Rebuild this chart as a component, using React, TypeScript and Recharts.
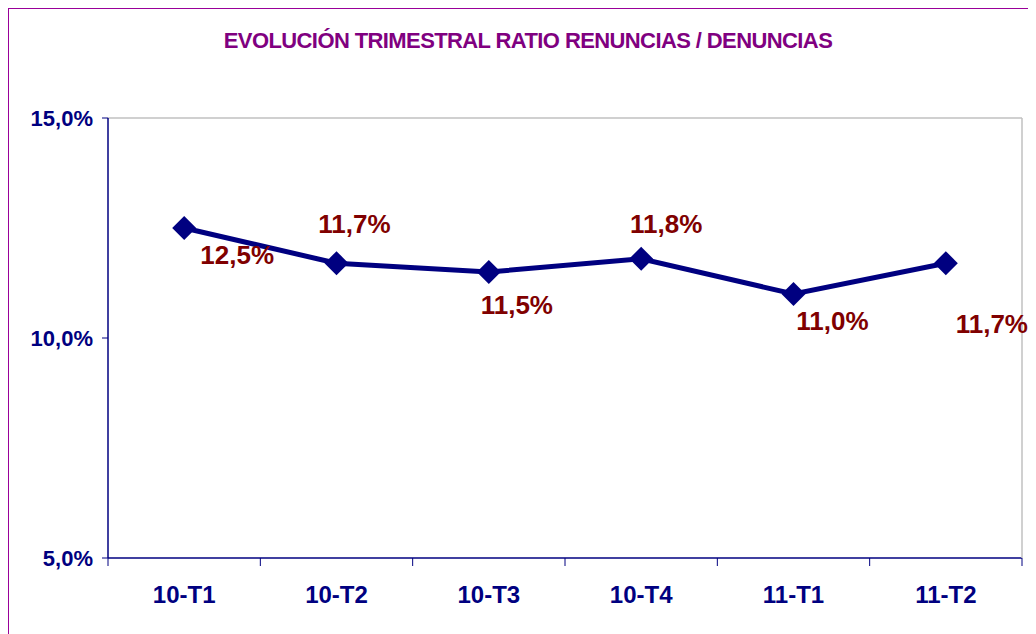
import React from 'react';
import { LineChart, Line, XAxis, YAxis, ReferenceLine, LabelList } from 'recharts';

const quarters = ['10-T1', '10-T2', '10-T3', '10-T4', '11-T1', '11-T2'];
const ratios = [12.5, 11.7, 11.5, 11.8, 11.0, 11.7];
const yTicks = [5, 10, 15];

const data = quarters.map((q, i) => ({ q, ratio: ratios[i] }));

// where each value label sits relative to its marker (from the original layout)
const LABEL_SHIFT = [
  [53, 27],
  [18, -39],
  [28, 33],
  [25, -35],
  [39, 27],
  [46, 61],
];

const FONT = '"Liberation Sans", Arial, sans-serif';
const NAVY = '#000080';
const fmt = (v: number) => `${v.toFixed(1).replace('.', ',')}%`;

const Diamond = (props: any) => {
  const { cx, cy, index } = props;
  if (cx == null || cy == null) return null;
  const r = 12;
  return (
    <path
      key={`dm-${index}`}
      d={`M${cx},${cy - r} L${cx + r},${cy} L${cx},${cy + r} L${cx - r},${cy} Z`}
      fill={NAVY}
    />
  );
};

const ValueLabel = (props: any) => {
  const { x, y, value, index } = props;
  const [dx, dy] = LABEL_SHIFT[index] || [0, -20];
  return (
    <text
      x={x + dx}
      y={y + dy}
      textAnchor="middle"
      dominantBaseline="central"
      fill="#800000"
      fontFamily={FONT}
      fontWeight="bold"
      fontSize={26}
    >
      {fmt(value)}
    </text>
  );
};

const XTick = (props: any) => {
  const { x, y, payload, index, visibleTicksCount } = props;
  const half = payload.offset || 0;
  return (
    <g>
      <line x1={x - half} x2={x - half} y1={y - 8} y2={y} stroke={NAVY} strokeWidth={1} />
      {index === visibleTicksCount - 1 && (
        <line x1={x + half} x2={x + half} y1={y - 8} y2={y} stroke={NAVY} strokeWidth={1} />
      )}
      <text
        x={x}
        y={y + 28}
        textAnchor="middle"
        dominantBaseline="central"
        fill={NAVY}
        fontFamily={FONT}
        fontWeight="bold"
        fontSize={24}
      >
        {payload.value}
      </text>
    </g>
  );
};

export default function App() {
  return (
    <div
      style={{
        position: 'relative',
        width: 1040,
        height: 640,
        border: '1px solid #990099',
        background: '#fff',
        fontFamily: FONT,
      }}
    >
      <div
        style={{
          position: 'absolute',
          left: 0,
          top: 19,
          width: 1038,
          textAlign: 'center',
          color: '#800080',
          fontWeight: 'bold',
          fontSize: 22,
          letterSpacing: -0.6,
        }}
      >
        EVOLUCIÓN TRIMESTRAL RATIO RENUNCIAS / DENUNCIAS
      </div>
      <LineChart
        width={1027}
        height={625}
        data={data}
        margin={{ top: 109, right: 0, left: 0, bottom: 26 }}
      >
        <ReferenceLine y={15} stroke="#c0c0c0" strokeWidth={1.5} />
        <XAxis
          dataKey="q"
          scale="band"
          axisLine={{ stroke: NAVY, strokeWidth: 1.5 }}
          tickLine={false}
          tick={<XTick />}
          height={50}
          interval={0}
        />
        <YAxis
          domain={[5, 15]}
          ticks={yTicks}
          tickFormatter={fmt}
          axisLine={{ stroke: NAVY, strokeWidth: 1.5 }}
          tickLine={{ stroke: NAVY }}
          tickSize={6}
          tickMargin={9}
          tick={{ fill: NAVY, fontFamily: FONT, fontWeight: 'bold', fontSize: 22 }}
          width={99}
        />
        <YAxis
          yAxisId="r"
          orientation="right"
          domain={[5, 15]}
          tick={false}
          tickLine={false}
          axisLine={{ stroke: '#c0c0c0', strokeWidth: 1.5 }}
          width={14}
        />
        <Line
          dataKey="ratio"
          stroke={NAVY}
          strokeWidth={5}
          dot={Diamond}
          activeDot={false}
          isAnimationActive={false}
        >
          <LabelList dataKey="ratio" content={<ValueLabel />} />
        </Line>
      </LineChart>
    </div>
  );
}
